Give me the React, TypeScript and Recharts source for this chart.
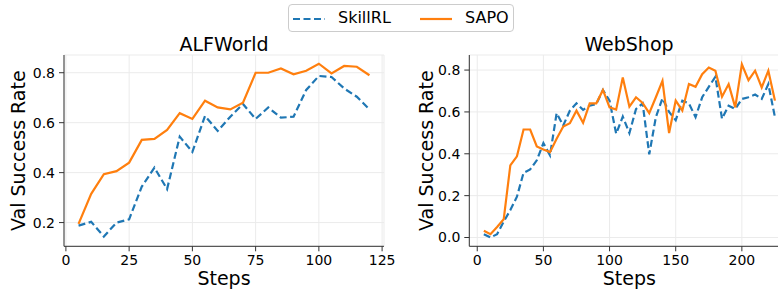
import { LineChart, Line, XAxis, YAxis, CartesianGrid, Label } from "recharts";

const alfSteps = [5, 10, 15, 20, 25, 30, 35, 40, 45, 50, 55, 60, 65, 70, 75, 80, 85, 90, 95, 100, 105, 110, 115, 120];
const alfSkillRL = [0.188, 0.203, 0.144, 0.2, 0.213, 0.344, 0.42, 0.334, 0.544, 0.483, 0.627, 0.567, 0.624, 0.675, 0.615, 0.661, 0.62, 0.624, 0.731, 0.787, 0.783, 0.737, 0.704, 0.653];
const alfSAPO = [0.195, 0.315, 0.394, 0.406, 0.44, 0.531, 0.535, 0.571, 0.638, 0.615, 0.688, 0.661, 0.653, 0.68, 0.8, 0.8, 0.817, 0.794, 0.808, 0.836, 0.797, 0.827, 0.824, 0.79];

const webSteps = [5, 10, 15, 20, 25, 30, 35, 40, 45, 50, 55, 60, 65, 70, 75, 80, 85, 90, 95, 100, 105, 110, 115, 120, 125, 130, 135, 140, 145, 150, 155, 160, 165, 170, 175, 180, 185, 190, 195, 200, 205, 210, 215, 220, 225];
const webSkillRL = [0.016, 0.0, 0.016, 0.076, 0.131, 0.195, 0.309, 0.325, 0.369, 0.451, 0.393, 0.594, 0.535, 0.606, 0.641, 0.61, 0.63, 0.638, 0.705, 0.654, 0.496, 0.578, 0.499, 0.614, 0.641, 0.397, 0.575, 0.665, 0.6, 0.56, 0.654, 0.64, 0.575, 0.67, 0.72, 0.768, 0.567, 0.63, 0.614, 0.662, 0.67, 0.683, 0.662, 0.733, 0.575];
const webSAPO = [0.032, 0.016, 0.05, 0.087, 0.345, 0.388, 0.516, 0.516, 0.435, 0.421, 0.408, 0.472, 0.53, 0.546, 0.606, 0.548, 0.641, 0.641, 0.705, 0.622, 0.611, 0.765, 0.625, 0.67, 0.643, 0.594, 0.67, 0.749, 0.499, 0.654, 0.606, 0.733, 0.72, 0.78, 0.812, 0.797, 0.673, 0.733, 0.622, 0.828, 0.752, 0.797, 0.717, 0.797, 0.654];

const alfXTicks = [0, 25, 50, 75, 100, 125];
const webXTicks = [0, 50, 100, 150, 200];
const alfYTicks = [0.2, 0.4, 0.6, 0.8];
const webYTicks = [0.0, 0.2, 0.4, 0.6, 0.8];

const FONT = "'DejaVu Sans', sans-serif";
const BLUE = "#1f77b4";
const ORANGE = "#ff7f0e";
const SPINE = "#333";

type PanelProps = {
  data: { step: number; skill: number; sapo: number }[];
  left: number;
  width: number;
  yAxisWidth: number;
  marginRight: number;
  xDomain: [number, number];
  xTicks: number[];
  yDomain: [number, number];
  yTicks: number[];
  yLabelOffset: number;
};

function Panel(p: PanelProps) {
  const tickStyle = { fontSize: 14, fill: "#000", fontFamily: FONT };
  return (
    <div style={{ position: "absolute", left: p.left, top: 0 }}>
      <LineChart width={p.width} height={290} data={p.data} margin={{ top: 55, right: p.marginRight, bottom: 0, left: 0 }}>
        <CartesianGrid stroke="#ebebeb" strokeWidth={1} />
        <XAxis
          dataKey="step"
          type="number"
          domain={p.xDomain}
          ticks={p.xTicks}
          allowDataOverflow
          height={43.7}
          tick={tickStyle}
          tickSize={5}
          tickMargin={4}
          tickLine={{ stroke: SPINE }}
          axisLine={{ stroke: SPINE }}
        >
          <Label value="Steps" position="insideBottom" offset={5} style={{ fontSize: 19, fill: "#000", fontFamily: FONT }} />
        </XAxis>
        <XAxis xAxisId="top" orientation="top" type="number" domain={p.xDomain} allowDataOverflow height={0} tick={false} tickLine={false} axisLine={{ stroke: SPINE }} />
        <YAxis
          type="number"
          domain={p.yDomain}
          ticks={p.yTicks}
          allowDataOverflow
          width={p.yAxisWidth}
          tick={tickStyle}
          tickSize={5}
          tickMargin={4}
          tickFormatter={(v: number) => v.toFixed(1)}
          tickLine={{ stroke: SPINE }}
          axisLine={{ stroke: SPINE }}
        >
          <Label
            value="Val Success Rate"
            angle={-90}
            position="insideLeft"
            offset={p.yLabelOffset}
            style={{ fontSize: 19, fill: "#000", fontFamily: FONT, textAnchor: "middle" }}
          />
        </YAxis>
        <YAxis yAxisId="right" orientation="right" type="number" domain={p.yDomain} allowDataOverflow width={0} tick={false} tickLine={false} axisLine={{ stroke: SPINE }} />
        <Line type="linear" dataKey="skill" stroke={BLUE} strokeWidth={2.2} strokeDasharray="7 3.5" dot={false} isAnimationActive={false} />
        <Line type="linear" dataKey="sapo" stroke={ORANGE} strokeWidth={2.2} dot={false} isAnimationActive={false} />
      </LineChart>
    </div>
  );
}

function Title({ text, cx }: { text: string; cx: number }) {
  return (
    <div style={{ position: "absolute", left: cx - 100, top: 33, width: 200, textAlign: "center", fontSize: 19, lineHeight: "22px", color: "#000" }}>
      {text}
    </div>
  );
}

export default function App() {
  const alfData = alfSteps.map((s, i) => ({ step: s, skill: alfSkillRL[i], sapo: alfSAPO[i] }));
  const webData = webSteps.map((s, i) => ({ step: s, skill: webSkillRL[i], sapo: webSAPO[i] }));

  return (
    <div style={{ position: "absolute", left: 0, top: 0, width: 778, height: 290, overflow: "hidden", background: "#fff", fontFamily: FONT }}>
      <Panel
        data={alfData}
        left={0}
        width={400}
        yAxisWidth={64}
        marginRight={16}
        xDomain={[-0.75, 125.75]}
        xTicks={alfXTicks}
        yDomain={[0.105, 0.871]}
        yTicks={alfYTicks}
        yLabelOffset={18}
      />
      <Panel
        data={webData}
        left={400}
        width={400}
        yAxisWidth={69.3}
        marginRight={10.5}
        xDomain={[-6, 236]}
        xTicks={webXTicks}
        yDomain={[-0.042, 0.872]}
        yTicks={webYTicks}
        yLabelOffset={26}
      />
      <Title text="ALFWorld" cx={224} />
      <Title text="WebShop" cx={629} />

      <div style={{ position: "absolute", left: 288, top: 4, width: 226, height: 28, boxSizing: "border-box", border: "1px solid #cccccc", borderRadius: 4, background: "#fff" }}>
        <svg style={{ position: "absolute", left: 4, top: 12 }} width={32} height={4}>
          <line x1={0} y1={2} x2={32} y2={2} stroke={BLUE} strokeWidth={2.2} strokeDasharray="7 3.5" />
        </svg>
        <div style={{ position: "absolute", left: 49, top: 3, fontSize: 16, lineHeight: "19px", color: "#000" }}>SkillRL</div>
        <svg style={{ position: "absolute", left: 131, top: 12 }} width={32} height={4}>
          <line x1={0} y1={2} x2={32} y2={2} stroke={ORANGE} strokeWidth={2.2} />
        </svg>
        <div style={{ position: "absolute", left: 176, top: 3, fontSize: 16, lineHeight: "19px", color: "#000" }}>SAPO</div>
      </div>
    </div>
  );
}
